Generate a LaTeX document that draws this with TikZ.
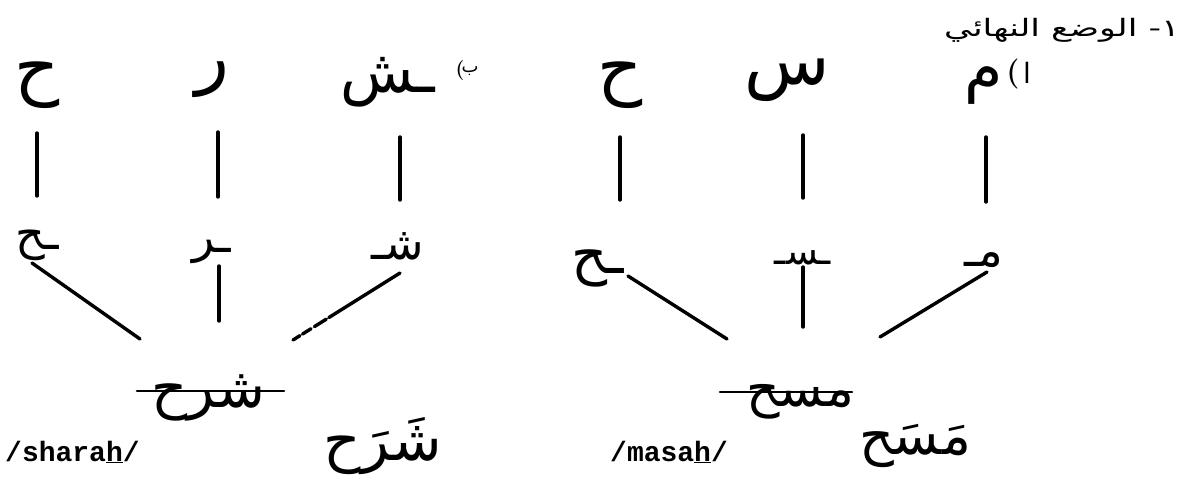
\documentclass[tikz,border=0pt]{standalone}
\usepackage{fontspec}
\usepackage{graphicx}
\TeXXeTstate=1
\newfontfamily\arabicfont[Script=Arabic]{DejaVu Sans}
\setmonofont{Liberation Mono}
\tikzset{
  conn/.style={line width=3.4pt, line cap=round},
  strike/.style={line width=2.6pt, line cap=round},
  topletter/.style={font=\arabicfont\fontsize{70}{74}\selectfont, inner sep=0pt},
  midletter/.style={font=\arabicfont\fontsize{46}{50}\selectfont, inner sep=0pt},
  word/.style={font=\arabicfont\fontsize{56}{60}\selectfont, inner sep=0pt},
  vocal/.style={font=\arabicfont\fontsize{58}{62}\selectfont, inner sep=0pt},
  label/.style={font=\arabicfont\fontsize{18}{22}\selectfont, inner sep=0pt},
  biglabel/.style={font=\arabicfont\fontsize{28}{32}\selectfont, inner sep=0pt},
  paren/.style={font=\fontsize{20}{24}\selectfont\bfseries, inner sep=0pt},
  bigparen/.style={font=\fontsize{30}{34}\selectfont\bfseries, inner sep=0pt},
  heading/.style={font=\arabicfont\fontsize{24}{28}\selectfont, inner sep=0pt},
  translit/.style={font=\ttfamily\bfseries\fontsize{28}{30}\selectfont, inner sep=0pt}
}
\begin{document}
\begin{tikzpicture}[x=1pt,y=-1pt]
\useasboundingbox (0,0) rectangle (1188,493);
% heading
\node[heading, anchor=east] (head) at (1180,30) {\scalebox{1.45}[1]{\beginR ١- الوضع النهائي\endR}};
% labels (visual order: paren left of letter)
\node[bigparen] (lap) at (1013,74) {(};
\node[biglabel] (la) at (1027,73) {ا};
\node[paren] (lbp) at (460,71) {(};
\node[label] (lb) at (470,71) {ب};
% left group (b)
\node[topletter] (bh) at (37,85) {\beginR ح\endR};
\node[topletter] (br) at (212,80) {\beginR ر\endR};
\node[topletter, font=\arabicfont\fontsize{60}{64}\selectfont] (bs) at (388,82) {\beginR ـش\endR};
\node[midletter] (bmh) at (37,245) {\beginR ـح\endR};
\node[midletter] (bmr) at (212,252) {\beginR ـر\endR};
\node[midletter] (bms) at (398,246) {\beginR شـ\endR};
% right group (a)
\node[topletter] (ah) at (620,85) {\beginR ح\endR};
\node[topletter] (as) at (787,80) {\beginR س\endR};
\node[topletter, font=\arabicfont\fontsize{62}{66}\selectfont] (am) at (984,86) {\beginR م\endR};
\node[midletter, font=\arabicfont\fontsize{56}{60}\selectfont] (amh) at (598,268) {\beginR ـح\endR};
\node[midletter, font=\arabicfont\fontsize{38}{42}\selectfont] (ams) at (803,258) {\beginR ـسـ\endR};
\node[midletter] (amm) at (984,260) {\beginR مـ\endR};
% vertical connectors (upper)
\coordinate (v1a) at (37,133);  \coordinate (v1b) at (37,196);
\coordinate (v2a) at (218,132); \coordinate (v2b) at (218,197);
\coordinate (v3a) at (400,137); \coordinate (v3b) at (400,200);
\coordinate (v4a) at (620,137); \coordinate (v4b) at (620,200);
\coordinate (v5a) at (803,135); \coordinate (v5b) at (803,198);
\coordinate (v6a) at (986,137); \coordinate (v6b) at (986,202);
\foreach \i in {1,...,6} \draw[conn] (v\i a) -- (v\i b);
% converging connectors
\coordinate (d1a) at (32,263);  \coordinate (d1b) at (140,339);
\coordinate (d2a) at (219,266); \coordinate (d2b) at (219,321);
\coordinate (d3a) at (400,273); \coordinate (d3b) at (293,340);
\coordinate (d4a) at (628,276); \coordinate (d4b) at (727,339);
\coordinate (d5a) at (803,267); \coordinate (d5b) at (803,327);
\coordinate (d6a) at (987,272); \coordinate (d6b) at (880,337);
\draw[conn] (d1a) -- (d1b);
\draw[conn] (d2a) -- (d2b);
\draw[conn, dash pattern=on 84pt off 3pt on 14pt off 4pt on 10pt off 3pt on 20pt] (d3a) -- (d3b);
\draw[conn] (d4a) -- (d4b);
\draw[conn] (d5a) -- (d5b);
\draw[conn] (d6a) -- (d6b);
% resulting words
\node[word] (wsh) at (208,398) {\beginR شرح\endR};
\coordinate (s1a) at (137,391); \coordinate (s1b) at (284,391);
\draw[strike] (s1a) -- (s1b);
\node[word, font=\arabicfont\fontsize{52}{56}\selectfont] (wms) at (800,402) {\beginR مسح\endR};
\coordinate (s2a) at (720,392); \coordinate (s2b) at (852,392);
\draw[strike] (s2a) -- (s2b);
% transliterations
\node[translit, anchor=west] (tsh) at (5,452) {/shara\underline{h}/};
\node[translit, anchor=west] (tms) at (610,452) {/masa\underline{h}/};
% vocalised forms
\node[vocal] (vsh) at (383,446) {\beginR شَرَح\endR};
\node[vocal, font=\arabicfont\fontsize{54}{58}\selectfont] (vms) at (915,446) {\beginR مَسَح\endR};
\end{tikzpicture}
\end{document}
